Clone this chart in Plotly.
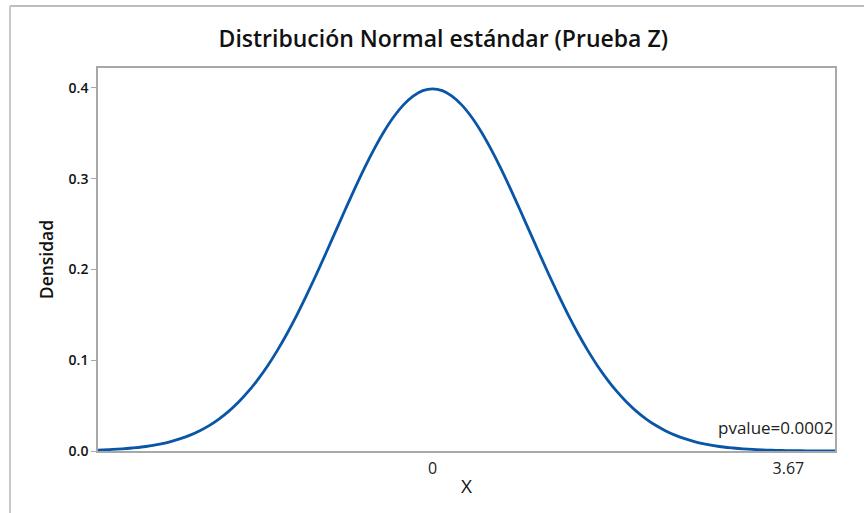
import plotly.graph_objects as go

# Standard normal density
x_vals = [-3.45, -3.4, -3.3, -3.2, -3.1, -3.0, -2.9, -2.8, -2.7, -2.6, -2.5, -2.4, -2.3, -2.2, -2.1,
          -2.0, -1.9, -1.8, -1.7, -1.6, -1.5, -1.4, -1.3, -1.2, -1.1, -1.0, -0.9, -0.8, -0.7,
          -0.6, -0.5, -0.4, -0.3, -0.2, -0.1, 0.0, 0.1, 0.2, 0.3, 0.4, 0.5, 0.6, 0.7, 0.8, 0.9,
          1.0, 1.1, 1.2, 1.3, 1.4, 1.5, 1.6, 1.7, 1.8, 1.9, 2.0, 2.1, 2.2, 2.3, 2.4, 2.5, 2.6,
          2.7, 2.8, 2.9, 3.0, 3.1, 3.2, 3.3, 3.4, 3.5, 3.6, 3.7, 3.8, 3.9, 4.0, 4.1, 4.15]
density = [0.0010, 0.0012, 0.0017, 0.0024, 0.0033, 0.0044, 0.0060, 0.0079, 0.0104, 0.0136, 0.0175,
           0.0224, 0.0283, 0.0355, 0.0440, 0.0540, 0.0656, 0.0790, 0.0940, 0.1109, 0.1295, 0.1497,
           0.1714, 0.1942, 0.2179, 0.2420, 0.2661, 0.2897, 0.3123, 0.3332, 0.3521, 0.3683, 0.3814,
           0.3910, 0.3970, 0.3989, 0.3970, 0.3910, 0.3814, 0.3683, 0.3521, 0.3332, 0.3123, 0.2897,
           0.2661, 0.2420, 0.2179, 0.1942, 0.1714, 0.1497, 0.1295, 0.1109, 0.0940, 0.0790, 0.0656,
           0.0540, 0.0440, 0.0355, 0.0283, 0.0224, 0.0175, 0.0136, 0.0104, 0.0079, 0.0060, 0.0044,
           0.0033, 0.0024, 0.0017, 0.0012, 0.0009, 0.0006, 0.0004, 0.0003, 0.0002, 0.0001, 0.0001,
           0.0001]

x_tickvals = [0, 3.67]
x_ticktext = ["0", "3.67"]
y_tickvals = [0.0, 0.1, 0.2, 0.3, 0.4]
y_ticktext = ["0.0", "0.1", "0.2", "0.3", "0.4"]

title_text = "Distribución Normal estándar (Prueba Z)"
x_title = "X"
y_title = "Densidad"
pvalue_text = "pvalue=0.0002"

FONT = "Open Sans"

fig = go.Figure()
fig.add_trace(go.Scatter(
    x=x_vals, y=density, mode="lines",
    line=dict(color="#0A56A6", width=2.8, shape="spline"),
    hoverinfo="skip", showlegend=False,
))

fig.update_layout(
    width=864, height=513,
    margin=dict(l=98, r=29, t=68, b=62, autoexpand=False),
    paper_bgcolor="white", plot_bgcolor="white",
    font=dict(family=FONT, color="#111"),
    title=dict(text=title_text, x=0.513, xref="container", xanchor="center",
               y=0.924, yref="container", yanchor="middle",
               font=dict(family=FONT, size=23, color="#111", weight=600)),
    showlegend=False,
)

fig.update_xaxes(
    range=[-3.45, 4.15], tickvals=x_tickvals, ticktext=x_ticktext,
    showgrid=False, zeroline=False,
    showline=True, linecolor="#A8A8A8", linewidth=1.5, mirror=True,
    ticks="outside", ticklen=2, tickcolor="rgba(0,0,0,0)",
    tickfont=dict(family=FONT, size=16, color="#222"),
    title=dict(text=x_title, font=dict(family=FONT, size=19, color="#111"), standoff=2),
)
fig.update_yaxes(
    range=[0, 0.422], tickvals=y_tickvals, ticktext=y_ticktext,
    showgrid=False, zeroline=False,
    showline=True, linecolor="#A8A8A8", linewidth=1.5, mirror=True,
    ticks="outside", ticklen=5, tickcolor="#A8A8A8",
    tickfont=dict(family=FONT, size=14, color="#111", weight=600),
    title=dict(text=y_title, font=dict(family=FONT, size=17.5, color="#111", weight=600), standoff=10),
)

fig.add_annotation(
    text=pvalue_text, xref="paper", x=1.0, xanchor="right",
    yref="y", y=0.0255, yanchor="middle", showarrow=False,
    font=dict(family=FONT, size=17, color="#222"),
)

# Outer frame lines (top and left) like the reference, positioned in pixels
fig.add_shape(type="line", xref="paper", yref="paper", ysizemode="pixel", yanchor=1,
              x0=(10 - 98) / 737.0, x1=(864 - 98) / 737.0, y0=62, y1=62,
              line=dict(color="#BDBDBD", width=2))
fig.add_shape(type="line", xref="paper", yref="paper", ysizemode="pixel", yanchor=1,
              x0=(10 - 98) / 737.0, x1=(10 - 98) / 737.0, y0=62, y1=-460,
              line=dict(color="#C8C8C8", width=2))

fig.write_html("out.html", config={"displayModeBar": False},
               post_script="document.body.style.margin='0';")
